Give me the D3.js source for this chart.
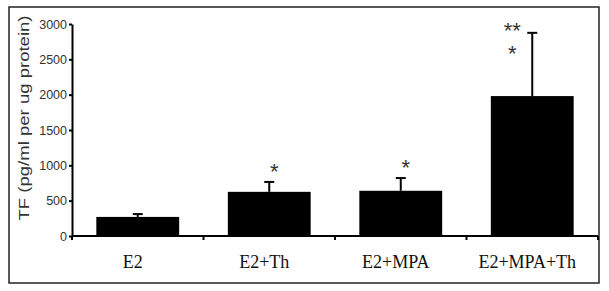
<!DOCTYPE html>
<html>
<head>
<meta charset="utf-8">
<script src="https://cdn.jsdelivr.net/npm/d3@7"></script>
<style>
  body { margin: 0; background: #fff; }
  svg { display: block; }
</style>
</head>
<body>
<div id="chart"></div>
<script>
// chart values
const categories = ["E2", "E2+Th", "E2+MPA", "E2+MPA+Th"];
const means = [270, 625, 640, 1980];
const errorTops = [310, 765, 820, 2875];
const stars = [[], ["*"], ["*"], ["**", "*"]];
const yTicks = [0, 500, 1000, 1500, 2000, 2500, 3000];

const width = 609, height = 291;
const margin = { left: 72, right: 11, top: 24, bottom: 55 };

const svg = d3.select("#chart").append("svg")
    .attr("width", width)
    .attr("height", height);

// outer frame
svg.append("rect")
    .attr("x", 9).attr("y", 7)
    .attr("width", 590).attr("height", 276)
    .attr("fill", "none")
    .attr("stroke", "#222")
    .attr("stroke-width", 1.5);

const x = d3.scaleBand()
    .domain(categories)
    .range([margin.left, width - margin.right])
    .paddingInner(0.37)
    .paddingOuter(0.185);

const y = d3.scaleLinear()
    .domain([0, 3000])
    .range([height - margin.bottom, margin.top]);

const step = x.step();
const x0 = margin.left;

// bars
svg.append("g")
    .selectAll("rect")
    .data(categories)
    .enter().append("rect")
    .attr("x", d => x(d))
    .attr("y", (d, i) => y(means[i]))
    .attr("width", x.bandwidth())
    .attr("height", (d, i) => y(0) - y(means[i]))
    .attr("fill", "#000");

// error bars (upper only)
const eb = svg.append("g").attr("stroke", "#000").attr("stroke-width", 2);
categories.forEach((c, i) => {
    const cx = x(c) + x.bandwidth() / 2;
    eb.append("line")
        .attr("x1", cx).attr("x2", cx)
        .attr("y1", y(means[i])).attr("y2", y(errorTops[i]));
    eb.append("line")
        .attr("x1", cx - 5).attr("x2", cx + 5)
        .attr("y1", y(errorTops[i])).attr("y2", y(errorTops[i]));
});

// significance stars
categories.forEach((c, i) => {
    const cx = x(c) + x.bandwidth() / 2;
    const multi = stars[i].length > 1;
    stars[i].forEach((s, k) => {
        svg.append("text")
            .attr("x", cx + (multi ? -20 : 5))
            .attr("y", multi ? 38 + k * 23 : y(errorTops[i]) - 3)
            .attr("text-anchor", "middle")
            .attr("font-family", "Liberation Sans, Arial, sans-serif")
            .attr("font-size", 22)
            .attr("fill", "#333")
            .text(s);
    });
});

// y axis
const yAxis = svg.append("g")
    .attr("transform", `translate(${margin.left},0)`)
    .call(d3.axisLeft(y).tickValues(yTicks).tickFormat(d3.format("d"))
        .tickSize(3).tickPadding(2).tickSizeOuter(0));
yAxis.select(".domain").attr("stroke", "#000").attr("stroke-width", 2);
yAxis.selectAll(".tick line").attr("stroke", "#000").attr("stroke-width", 2);
yAxis.selectAll(".tick text")
    .attr("font-family", "Liberation Sans, Arial, sans-serif")
    .attr("font-size", 12.5)
    .attr("fill", "#333");

// x axis line with ticks at category boundaries
const xAxis = svg.append("g").attr("stroke", "#000").attr("stroke-width", 2);
xAxis.append("line")
    .attr("x1", x0).attr("x2", width - margin.right)
    .attr("y1", y(0)).attr("y2", y(0));
d3.range(categories.length + 1).forEach(k => {
    xAxis.append("line")
        .attr("x1", x0 + k * step).attr("x2", x0 + k * step)
        .attr("y1", y(0)).attr("y2", y(0) + 4);
});

// category labels
svg.append("g")
    .selectAll("text")
    .data(categories)
    .enter().append("text")
    .attr("x", d => x(d) + x.bandwidth() / 2 - 5)
    .attr("y", 268)
    .attr("text-anchor", "middle")
    .attr("font-family", "Liberation Serif, Times New Roman, serif")
    .attr("font-size", 18)
    .attr("fill", "#111")
    .text(d => d);

// y axis title
svg.append("text")
    .attr("transform", "translate(29,118) rotate(-90)")
    .attr("text-anchor", "middle")
    .attr("font-family", "Liberation Sans, Arial, sans-serif")
    .attr("font-size", 15)
    .attr("textLength", 205)
    .attr("lengthAdjust", "spacingAndGlyphs")
    .attr("fill", "#333")
    .text("TF (pg/ml per ug protein)");
</script>
</body>
</html>
